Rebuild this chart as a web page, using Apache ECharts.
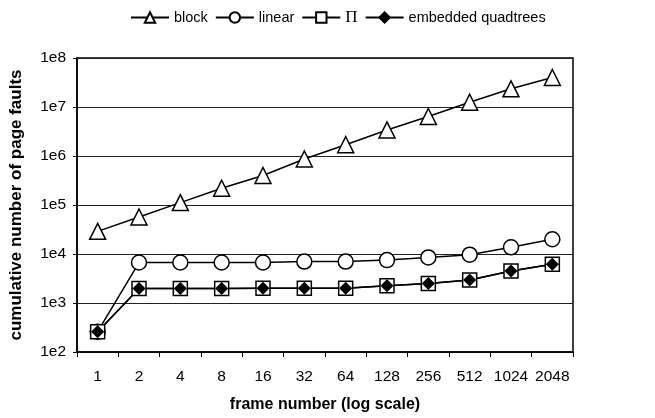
<!DOCTYPE html>
<html>
<head>
<meta charset="utf-8">
<script src="https://cdn.jsdelivr.net/npm/echarts@6/dist/echarts.min.js"></script>
<style>html,body{margin:0;padding:0;background:#fff}#c{width:655px;height:418px}</style>
</head>
<body>
<div id="c"></div>
<script>
var categories = ['1','2','4','8','16','32','64','128','256','512','1024','2048'];
var blockVals = [29000, 57000, 112000, 220000, 400000, 870000, 1700000, 3400000, 6400000, 12500000, 23500000, 40000000];
var linearVals = [260, 6700, 6700, 6700, 6700, 7000, 7000, 7500, 8500, 9700, 13700, 20000];
var piVals = [260, 1980, 1980, 1980, 2000, 2000, 2000, 2250, 2500, 2950, 4500, 6200];
var quadVals = [260, 1980, 1980, 1980, 2000, 2000, 2000, 2250, 2500, 2950, 4500, 6200];
var seriesNames = ['block', 'linear', 'Π', 'embedded quadtrees'];

var chart = echarts.init(document.getElementById('c'), null, {renderer: 'canvas'});
var font = 'Liberation Sans, Arial, sans-serif';
function mk(name, data, symbol, size, fill) {
  return {
    name: name, type: 'line', data: data, symbol: symbol, symbolSize: size,
    showAllSymbol: true, animation: false,
    lineStyle: {color: '#000', width: 1.5},
    itemStyle: {color: fill, borderColor: '#000', borderWidth: 1.5}
  };
}
chart.setOption({
  backgroundColor: '#fff',
  animation: false,
  legend: {
    top: 4, left: 125, itemWidth: 38, itemHeight: 13, itemGap: 7,
    textStyle: {fontFamily: font, fontSize: 14.5, color: '#000',
      rich: {s: {fontFamily: 'Liberation Serif, Times New Roman, serif', fontSize: 17, color: '#000'}}},
    formatter: function (n) { return n === 'Π' ? '{s|Π}' : n; },
    data: seriesNames
  },
  grid: {left: 77, right: 82, top: 58, bottom: 65, show: true, borderColor: '#000', borderWidth: 1.5, backgroundColor: '#fff'},
  xAxis: {
    type: 'category', data: categories, boundaryGap: true,
    name: 'frame number (log scale)', nameLocation: 'middle', nameGap: 45,
    nameTextStyle: {fontFamily: font, fontSize: 16, fontWeight: 'bold', color: '#000'},
    axisLine: {lineStyle: {color: '#000', width: 1.5}},
    axisTick: {show: true, alignWithLabel: false, length: 5, lineStyle: {color: '#000'}},
    axisLabel: {fontFamily: font, fontSize: 15.5, color: '#000', margin: 17, interval: 0},
    splitLine: {show: false}
  },
  yAxis: {
    type: 'log', logBase: 10, min: 100, max: 100000000,
    name: 'cumulative number of page faults', nameLocation: 'middle', nameGap: 52,
    nameTextStyle: {fontFamily: font, fontSize: 17, fontWeight: 'bold', color: '#000'},
    axisLine: {show: true, lineStyle: {color: '#000', width: 1.5}},
    axisTick: {show: true, length: 4, lineStyle: {color: '#000'}},
    axisLabel: {fontFamily: font, fontSize: 15.5, color: '#000', margin: 11,
      formatter: function (v) { return '1e' + Math.round(Math.log10(v)); }},
    splitLine: {show: true, lineStyle: {color: '#222', width: 1}},
    minorTick: {show: false}
  },
  series: [
    mk(seriesNames[0], blockVals, 'triangle', 16, '#fff'),
    mk(seriesNames[1], linearVals, 'circle', 15, '#fff'),
    mk(seriesNames[2], piVals, 'rect', 14, '#fff'),
    mk(seriesNames[3], quadVals, 'diamond', 11, '#000')
  ]
});
</script>
</body>
</html>
